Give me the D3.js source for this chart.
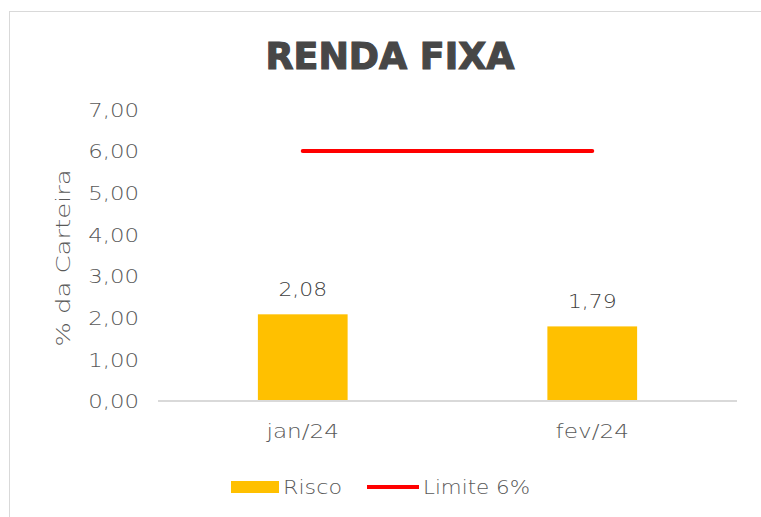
<!DOCTYPE html>
<html><head><meta charset="utf-8">
<script src="https://cdn.jsdelivr.net/npm/d3@7"></script>
<style>
html,body{margin:0;padding:0;background:#fff;}
svg{display:block;font-family:"DejaVu Sans",sans-serif;}
</style></head>
<body>
<svg id="c" width="761" height="517"></svg>
<script>
const categories = ["jan/24", "fev/24"];
const risco = [2.08, 1.79];
const limite = [6, 6];
const yTicks = [0, 1, 2, 3, 4, 5, 6, 7];
const title = "RENDA FIXA";
const yTitle = "% da Carteira";
const legendLabels = ["Risco", "Limite 6%"];

const svg = d3.select("#c");
const fmt = v => v.toFixed(2).replace(".", ",");
const LIGHT = "200";

// stretch a text selection horizontally by factor k (to mimic a wider face)
function widen(sel, k) {
  sel.each(function () {
    const w = this.getComputedTextLength();
    d3.select(this).attr("textLength", w * k).attr("lengthAdjust", "spacingAndGlyphs");
  });
}

svg.append("rect").attr("x", 9.5).attr("y", 11.5).attr("width", 760).attr("height", 520)
  .attr("fill", "#fff").attr("stroke", "#d9d9d9").attr("stroke-width", 1);

const x = d3.scaleBand().domain(categories).range([158, 737]).paddingInner(0.69).paddingOuter(0.345);
const y = d3.scaleLinear().domain([0, 7]).range([401, 109.3]);

// title
svg.append("text").attr("x", 390).attr("y", 68.5).attr("text-anchor", "middle")
  .attr("font-weight", 900).attr("font-size", 37).attr("fill", "#474747")
  .attr("stroke", "#474747").attr("stroke-width", 1.2)
  .attr("textLength", 249).attr("lengthAdjust", "spacingAndGlyphs")
  .text(title);

// y axis labels
const yAxis = d3.axisLeft(y).tickValues(yTicks).tickFormat(fmt).tickSize(0).tickPadding(0);
const gy = svg.append("g").attr("transform", "translate(139,0)").call(yAxis);
gy.select(".domain").remove();
gy.selectAll("text").attr("font-size", 19).attr("fill", "#595959")
  .attr("font-family", "'DejaVu Sans', sans-serif").attr("font-weight", LIGHT).attr("dy", "0.36em");
widen(gy.selectAll("text"), 1.2);

// y title
const yt = svg.append("text").attr("transform", "translate(70,258) rotate(-90)")
  .attr("text-anchor", "middle").attr("font-size", 19).attr("font-weight", LIGHT)
  .attr("fill", "#595959").text(yTitle);
widen(yt, 1.36);

// bars
svg.selectAll("rect.bar").data(risco).join("rect").attr("class", "bar")
  .attr("x", (d, i) => x(categories[i])).attr("width", x.bandwidth())
  .attr("y", d => y(d)).attr("height", d => y(0) - y(d)).attr("fill", "#ffc000");

// baseline
svg.append("line").attr("x1", 158).attr("x2", 737).attr("y1", y(0)).attr("y2", y(0))
  .attr("stroke", "#d9d9d9").attr("stroke-width", 2);

// x axis labels
const xAxis = d3.axisBottom(x).tickSize(0).tickPadding(0);
const gx = svg.append("g").attr("transform", "translate(0,424)").call(xAxis);
gx.select(".domain").remove();
gx.selectAll("text").attr("font-size", 19).attr("fill", "#595959")
  .attr("font-family", "'DejaVu Sans', sans-serif").attr("font-weight", LIGHT);
widen(gx.selectAll("text"), 1.22);

// value labels
const vl = svg.selectAll("text.val").data(risco).join("text").attr("class", "val")
  .attr("x", (d, i) => x(categories[i]) + x.bandwidth() / 2)
  .attr("y", d => y(d) - 18).attr("text-anchor", "middle")
  .attr("font-size", 19).attr("font-weight", LIGHT).attr("fill", "#404040")
  .text(fmt);
widen(vl, 1.15);

// limit line
const line = d3.line().x((d, i) => x(categories[i]) + x.bandwidth() / 2).y(d => y(d));
svg.append("path").datum(limite).attr("d", line).attr("fill", "none")
  .attr("stroke", "#ff0000").attr("stroke-width", 4).attr("stroke-linecap", "round");

// legend
const lg = svg.append("g");
lg.append("rect").attr("x", 231).attr("y", 481).attr("width", 48).attr("height", 12).attr("fill", "#ffc000");
lg.append("text").attr("x", 283).attr("y", 494).attr("font-size", 19).attr("font-weight", LIGHT)
  .attr("fill", "#595959").attr("textLength", 59).attr("lengthAdjust", "spacingAndGlyphs").text(legendLabels[0]);
lg.append("line").attr("x1", 367).attr("x2", 419).attr("y1", 487).attr("y2", 487)
  .attr("stroke", "#ff0000").attr("stroke-width", 4);
lg.append("text").attr("x", 423).attr("y", 494).attr("font-size", 19).attr("font-weight", LIGHT)
  .attr("fill", "#595959").attr("textLength", 107).attr("lengthAdjust", "spacingAndGlyphs").text(legendLabels[1]);
</script>
</body></html>
